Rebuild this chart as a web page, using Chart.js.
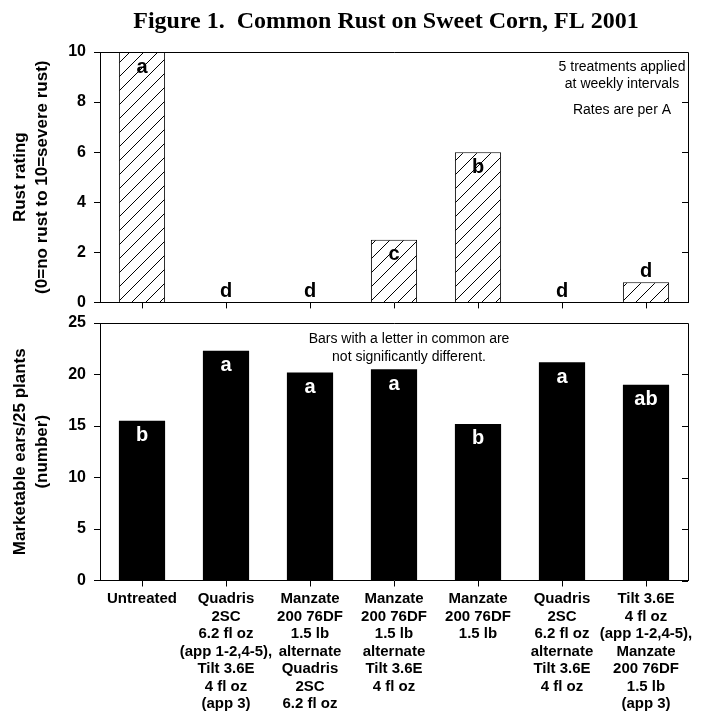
<!DOCTYPE html>
<html>
<head>
<meta charset="utf-8">
<script src="https://cdn.jsdelivr.net/npm/chart.js@4.4.0/dist/chart.umd.min.js"></script>
<style>
  body { margin: 0; background: #fff; }
  #wrap { position: relative; width: 703px; height: 717px; }
  canvas { position: absolute; left: 0; }
  #graficaRoya { top: 0; }
  #graficaMazorcas { top: 300px; }
</style>
</head>
<body>
<div id="wrap">
  <canvas id="graficaRoya" width="703" height="320"></canvas>
  <canvas id="graficaMazorcas" width="703" height="417"></canvas>
</div>
<script>
// Datos
const treatments = [
  ["Untreated"],
  ["Quadris", "2SC", "6.2 fl oz", "(app 1-2,4-5),", "Tilt 3.6E", "4 fl oz", "(app 3)"],
  ["Manzate", "200 76DF", "1.5 lb", "alternate", "Quadris", "2SC", "6.2 fl oz"],
  ["Manzate", "200 76DF", "1.5 lb", "alternate", "Tilt 3.6E", "4 fl oz"],
  ["Manzate", "200 76DF", "1.5 lb"],
  ["Quadris", "2SC", "6.2 fl oz", "alternate", "Tilt 3.6E", "4 fl oz"],
  ["Tilt 3.6E", "4 fl oz", "(app 1-2,4-5),", "Manzate", "200 76DF", "1.5 lb", "(app 3)"]
];
const rustRating = [10, 0, 0, 2.5, 6, 0, 0.8];
const rustLetters = ["a", "d", "d", "c", "b", "d", "d"];
const earsPer25 = [15.5, 22.3, 20.2, 20.5, 15.2, 21.2, 19.0];
const earsLetters = ["b", "a", "a", "a", "b", "a", "ab"];
const rustStep = 2, rustMax = 10;
const earsStep = 5, earsMax = 25;

const SANS = '"Liberation Sans", Arial, sans-serif';
const SERIF = '"Liberation Serif", "Times New Roman", serif';

// Rayado diagonal para las barras de roya
function hatchPattern() {
  const s = 14;
  const c = document.createElement("canvas");
  c.width = s; c.height = s;
  const g = c.getContext("2d");
  g.fillStyle = "#fff";
  g.fillRect(0, 0, s, s);
  g.strokeStyle = "#000";
  g.lineWidth = 1;
  g.beginPath();
  g.moveTo(0, s); g.lineTo(s, 0);
  g.moveTo(-1, 1); g.lineTo(1, -1);
  g.moveTo(s - 1, s + 1); g.lineTo(s + 1, s - 1);
  g.stroke();
  return g.createPattern(c, "repeat");
}

// Marco superior/derecho con marcas hacia adentro
const marco = {
  id: "marco",
  afterDraw(chart) {
    const { ctx, chartArea: a } = chart;
    const y = chart.scales.y;
    ctx.save();
    ctx.strokeStyle = "#000";
    ctx.lineWidth = 1;
    ctx.beginPath();
    ctx.moveTo(a.left, a.top + 0.5);
    ctx.lineTo(a.right + 0.5, a.top + 0.5);
    ctx.lineTo(a.right + 0.5, a.bottom);
    y.ticks.forEach(t => {
      const py = Math.round(y.getPixelForValue(t.value)) + 0.5;
      ctx.moveTo(a.right - 6, py);
      ctx.lineTo(a.right, py);
    });
    ctx.stroke();
    ctx.restore();
  }
};

// Título de la figura
const titulo = {
  id: "titulo",
  afterDraw(chart) {
    const { ctx } = chart;
    ctx.save();
    ctx.font = "bold 24px " + SERIF;
    ctx.fillStyle = "#000";
    ctx.textAlign = "center";
    ctx.textBaseline = "middle";
    ctx.fillText("Figure 1.  Common Rust on Sweet Corn, FL 2001", 386, 22);
    ctx.restore();
  }
};

// Letras de significancia
function letrasPlugin(letters, inColor) {
  return {
    id: "letras",
    afterDatasetsDraw(chart) {
      const { ctx } = chart;
      const meta = chart.getDatasetMeta(0);
      ctx.save();
      ctx.font = "bold 20px " + SANS;
      ctx.textAlign = "center";
      ctx.textBaseline = "middle";
      meta.data.forEach((bar, i) => {
        const h = bar.base - bar.y;
        if (h > 28) {
          ctx.fillStyle = inColor;
          ctx.fillText(letters[i], bar.x, bar.y + 15);
        } else {
          ctx.fillStyle = "#000";
          ctx.fillText(letters[i], bar.x, bar.y - 11);
        }
      });
      ctx.restore();
    }
  };
}

function notasPlugin(lines) {
  return {
    id: "notas",
    afterDraw(chart) {
      const { ctx, chartArea: a } = chart;
      ctx.save();
      ctx.font = "14px " + SANS;
      ctx.fillStyle = "#000";
      ctx.textAlign = "center";
      ctx.textBaseline = "middle";
      lines.forEach(l => ctx.fillText(l.text, l.x(a), a.top + l.dy));
      ctx.restore();
    }
  };
}

function yAxis(max, step, title) {
  return {
    min: 0,
    max: max,
    afterFit(scale) { scale.width = 100; },
    border: { color: "#000", width: 1 },
    grid: { drawOnChartArea: false, tickLength: 6, color: "#000" },
    ticks: { stepSize: step, color: "#000", padding: 8, font: { family: SANS, size: 16, weight: "bold" } },
    title: {
      display: true,
      text: title,
      color: "#000",
      padding: { top: 9, bottom: 0 },
      font: { family: SANS, size: 17, weight: "bold", lineHeight: 1.3 }
    }
  };
}

// Gráfica de roya
new Chart(document.getElementById("graficaRoya"), {
  type: "bar",
  data: {
    labels: treatments,
    datasets: [{
      data: rustRating,
      backgroundColor: hatchPattern(),
      borderColor: "#000",
      borderWidth: 1,
      categoryPercentage: 1,
      barPercentage: 0.55
    }]
  },
  options: {
    responsive: false,
    animation: false,
    layout: { autoPadding: false, padding: { top: 52, right: 15, bottom: 6, left: 0 } },
    plugins: { legend: { display: false }, tooltip: { enabled: false } },
    scales: {
      x: {
        afterFit(scale) { scale.height = 6; },
        border: { color: "#000", width: 1 },
        grid: { drawOnChartArea: false, offset: false, tickLength: 6, color: "#000" },
        ticks: { display: false }
      },
      y: yAxis(rustMax, rustStep, ["Rust rating", "(0=no rust to 10=severe rust)"])
    }
  },
  plugins: [marco, titulo, letrasPlugin(rustLetters, "#000"), notasPlugin([
    { text: "5 treatments applied", x: a => a.right - 66, dy: 15 },
    { text: "at weekly intervals", x: a => a.right - 66, dy: 32 },
    { text: "Rates are per A", x: a => a.right - 66, dy: 58 }
  ])]
});

// Gráfica de mazorcas comerciales
new Chart(document.getElementById("graficaMazorcas"), {
  type: "bar",
  data: {
    labels: treatments,
    datasets: [{
      data: earsPer25,
      backgroundColor: "#000",
      borderWidth: 0,
      categoryPercentage: 1,
      barPercentage: 0.55
    }]
  },
  options: {
    responsive: false,
    animation: false,
    layout: { autoPadding: false, padding: { top: 23, right: 15, bottom: 0, left: 0 } },
    plugins: { legend: { display: false }, tooltip: { enabled: false } },
    scales: {
      x: {
        border: { color: "#000", width: 1 },
        grid: { drawOnChartArea: false, offset: false, tickLength: 6, color: "#000" },
        ticks: {
          color: "#000",
          padding: 4,
          maxRotation: 0,
          minRotation: 0,
          autoSkip: false,
          font: { family: SANS, size: 15, weight: "bold", lineHeight: 17.5 / 15 }
        }
      },
      y: yAxis(earsMax, earsStep, ["Marketable ears/25 plants", "(number)"])
    }
  },
  plugins: [marco, letrasPlugin(earsLetters, "#fff"), notasPlugin([
    { text: "Bars with a letter in common are", x: a => (a.left + a.right) / 2 + 15, dy: 16 },
    { text: "not significantly different.", x: a => (a.left + a.right) / 2 + 15, dy: 34 }
  ])]
});
</script>
</body>
</html>
